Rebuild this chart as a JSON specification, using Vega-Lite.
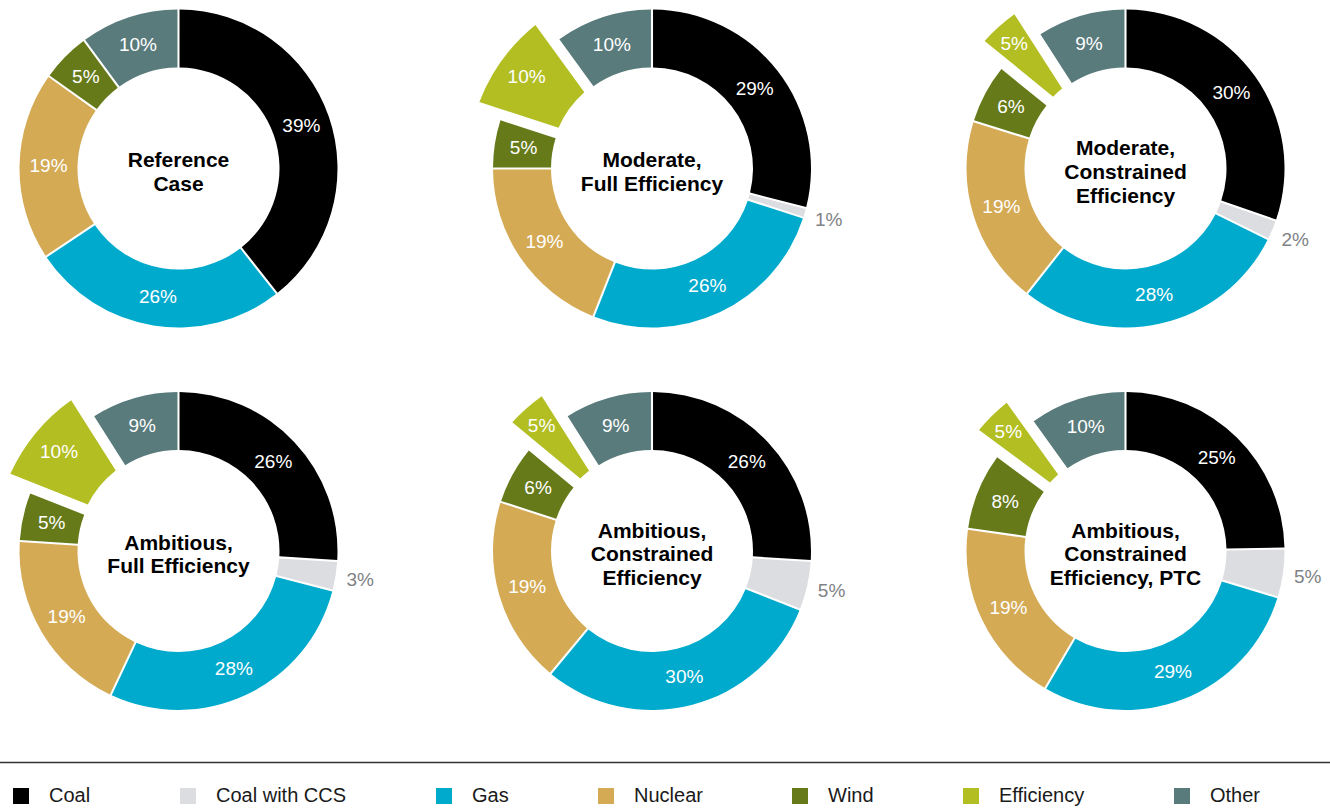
{
  "$schema": "https://vega.github.io/schema/vega-lite/v6.json",
  "width": 1330,
  "height": 808,
  "autosize": {"type": "none"},
  "padding": 0,
  "background": "white",
  "config": {
    "view": {"stroke": null},
    "font": "Liberation Sans",
    "legend": {
      "orient": "none",
      "legendX": 11,
      "legendY": 786,
      "direction": "horizontal",
      "title": null,
      "symbolType": "square",
      "symbolSize": 256,
      "symbolStrokeWidth": 0,
      "symbolOpacity": 1,
      "labelFont": "Liberation Sans",
      "labelFontSize": 20,
      "labelColor": "#1a1a1a",
      "labelOffset": 18,
      "columnPadding": 87,
      "padding": 0,
      "labelLimit": 300
    }
  },
  "data": {
    "values": [
      {"chart": "Reference\nCase", "source": "Coal", "v": 39},
      {"chart": "Reference\nCase", "source": "Gas", "v": 26},
      {"chart": "Reference\nCase", "source": "Nuclear", "v": 19},
      {"chart": "Reference\nCase", "source": "Wind", "v": 5},
      {"chart": "Reference\nCase", "source": "Other", "v": 10},
      {"chart": "Moderate,\nFull Efficiency", "source": "Coal", "v": 29},
      {"chart": "Moderate,\nFull Efficiency", "source": "Coal with CCS", "v": 1},
      {"chart": "Moderate,\nFull Efficiency", "source": "Gas", "v": 26},
      {"chart": "Moderate,\nFull Efficiency", "source": "Nuclear", "v": 19},
      {"chart": "Moderate,\nFull Efficiency", "source": "Wind", "v": 5},
      {"chart": "Moderate,\nFull Efficiency", "source": "Efficiency", "v": 10},
      {"chart": "Moderate,\nFull Efficiency", "source": "Other", "v": 10},
      {"chart": "Moderate,\nConstrained\nEfficiency", "source": "Coal", "v": 30},
      {"chart": "Moderate,\nConstrained\nEfficiency", "source": "Coal with CCS", "v": 2},
      {"chart": "Moderate,\nConstrained\nEfficiency", "source": "Gas", "v": 28},
      {"chart": "Moderate,\nConstrained\nEfficiency", "source": "Nuclear", "v": 19},
      {"chart": "Moderate,\nConstrained\nEfficiency", "source": "Wind", "v": 6},
      {"chart": "Moderate,\nConstrained\nEfficiency", "source": "Efficiency", "v": 5},
      {"chart": "Moderate,\nConstrained\nEfficiency", "source": "Other", "v": 9},
      {"chart": "Ambitious,\nFull Efficiency", "source": "Coal", "v": 26},
      {"chart": "Ambitious,\nFull Efficiency", "source": "Coal with CCS", "v": 3},
      {"chart": "Ambitious,\nFull Efficiency", "source": "Gas", "v": 28},
      {"chart": "Ambitious,\nFull Efficiency", "source": "Nuclear", "v": 19},
      {"chart": "Ambitious,\nFull Efficiency", "source": "Wind", "v": 5},
      {"chart": "Ambitious,\nFull Efficiency", "source": "Efficiency", "v": 10},
      {"chart": "Ambitious,\nFull Efficiency", "source": "Other", "v": 9},
      {"chart": "Ambitious,\nConstrained\nEfficiency", "source": "Coal", "v": 26},
      {"chart": "Ambitious,\nConstrained\nEfficiency", "source": "Coal with CCS", "v": 5},
      {"chart": "Ambitious,\nConstrained\nEfficiency", "source": "Gas", "v": 30},
      {"chart": "Ambitious,\nConstrained\nEfficiency", "source": "Nuclear", "v": 19},
      {"chart": "Ambitious,\nConstrained\nEfficiency", "source": "Wind", "v": 6},
      {"chart": "Ambitious,\nConstrained\nEfficiency", "source": "Efficiency", "v": 5},
      {"chart": "Ambitious,\nConstrained\nEfficiency", "source": "Other", "v": 9},
      {"chart": "Ambitious,\nConstrained\nEfficiency, PTC", "source": "Coal", "v": 25},
      {"chart": "Ambitious,\nConstrained\nEfficiency, PTC", "source": "Coal with CCS", "v": 5},
      {"chart": "Ambitious,\nConstrained\nEfficiency, PTC", "source": "Gas", "v": 29},
      {"chart": "Ambitious,\nConstrained\nEfficiency, PTC", "source": "Nuclear", "v": 19},
      {"chart": "Ambitious,\nConstrained\nEfficiency, PTC", "source": "Wind", "v": 8},
      {"chart": "Ambitious,\nConstrained\nEfficiency, PTC", "source": "Efficiency", "v": 5},
      {"chart": "Ambitious,\nConstrained\nEfficiency, PTC", "source": "Other", "v": 10}
    ]
  },
  "transform": [
    {"calculate": "indexof(['Reference\\nCase', 'Moderate,\\nFull Efficiency', 'Moderate,\\nConstrained\\nEfficiency', 'Ambitious,\\nFull Efficiency', 'Ambitious,\\nConstrained\\nEfficiency', 'Ambitious,\\nConstrained\\nEfficiency, PTC'], datum.chart)", "as": "i"},
    {"calculate": "datum.i % 3", "as": "col"},
    {"calculate": "floor(datum.i / 3)", "as": "row"},
    {"calculate": "length(split(datum.chart, '\\n'))", "as": "nl"},
    {"calculate": "indexof(['Coal', 'Coal with CCS', 'Gas', 'Nuclear', 'Wind', 'Efficiency', 'Other'], datum.source)", "as": "k"},
    {"stack": "v", "groupby": ["chart"], "sort": [{"field": "k", "order": "ascending"}], "offset": "normalize", "as": ["s0", "s1"]},
    {"calculate": "(datum.s0 + datum.s1) / 2", "as": "mid"},
    {"calculate": "datum.v + '%'", "as": "lab"}
  ],
  "resolve": {"scale": {"radius": "independent"}},
  "layer": [
    {
      "transform": [{"filter": "datum.source !== 'Efficiency'"}],
      "mark": {"type": "arc", "radius": 159, "radius2": 101, "padAngle": 0.011},
      "encoding": {
        "x": {"field": "col", "type": "quantitative", "scale": {"domain": [0, 2], "range": [178.5, 1125.5], "nice": false, "zero": false}, "axis": null},
        "y": {"field": "row", "type": "quantitative", "scale": {"domain": [0, 1], "range": [168.5, 551], "nice": false, "zero": false}, "axis": null},
        "theta": {"field": "s0", "type": "quantitative", "scale": {"domain": [0, 1], "range": [0, 6.283185307179586]}},
        "theta2": {"field": "s1"},
        "color": {
          "field": "source", "type": "nominal",
          "scale": {
            "domain": ["Coal", "Coal with CCS", "Gas", "Nuclear", "Wind", "Efficiency", "Other"],
            "range": ["#000000", "#dcdde0", "#00aacc", "#d4aa55", "#667a1a", "#b2be22", "#5a7b7c"]
          },
          "sort": null
        }
      }
    },
    {
      "transform": [{"filter": "datum.source === 'Efficiency'"}],
      "mark": {"type": "arc", "radius2": 102, "padAngle": 0.094},
      "encoding": {
        "x": {"field": "col", "type": "quantitative", "scale": {"domain": [0, 2], "range": [178.5, 1125.5], "nice": false, "zero": false}, "axis": null},
        "y": {"field": "row", "type": "quantitative", "scale": {"domain": [0, 1], "range": [168.5, 551], "nice": false, "zero": false}, "axis": null},
        "theta": {"field": "s0", "type": "quantitative", "scale": {"domain": [0, 1], "range": [0, 6.283185307179586]}},
        "theta2": {"field": "s1"},
        "radius": {"field": "v", "type": "quantitative", "scale": {"type": "linear", "domain": [5, 10], "range": [190, 185], "zero": false}},
        "color": {"field": "source", "type": "nominal"}
      }
    },
    {
      "transform": [{"filter": "datum.source !== 'Efficiency' && datum.source !== 'Coal with CCS'"}],
      "mark": {"type": "text", "radius": 130, "color": "white", "fontSize": 19, "align": "center", "baseline": "middle"},
      "encoding": {
        "x": {"field": "col", "type": "quantitative", "scale": {"domain": [0, 2], "range": [178.5, 1125.5], "nice": false, "zero": false}, "axis": null},
        "y": {"field": "row", "type": "quantitative", "scale": {"domain": [0, 1], "range": [168.5, 551], "nice": false, "zero": false}, "axis": null},
        "theta": {"field": "mid", "type": "quantitative", "stack": null, "scale": {"domain": [0, 1], "range": [0, 6.283185307179586]}},
        "text": {"field": "lab"}
      }
    },
    {
      "transform": [{"filter": "datum.source === 'Efficiency'"}],
      "mark": {"type": "text", "color": "white", "fontSize": 19, "align": "center", "baseline": "middle"},
      "encoding": {
        "x": {"field": "col", "type": "quantitative", "scale": {"domain": [0, 2], "range": [178.5, 1125.5], "nice": false, "zero": false}, "axis": null},
        "y": {"field": "row", "type": "quantitative", "scale": {"domain": [0, 1], "range": [168.5, 551], "nice": false, "zero": false}, "axis": null},
        "theta": {"field": "mid", "type": "quantitative", "stack": null, "scale": {"domain": [0, 1], "range": [0, 6.283185307179586]}},
        "radius": {"field": "v", "type": "quantitative", "scale": {"type": "linear", "domain": [5, 10], "range": [167, 155], "zero": false}},
        "text": {"field": "lab"}
      }
    },
    {
      "transform": [{"filter": "datum.source === 'Coal with CCS'"}],
      "mark": {"type": "text", "radius": 184, "color": "#808285", "fontSize": 19, "align": "center", "baseline": "middle"},
      "encoding": {
        "x": {"field": "col", "type": "quantitative", "scale": {"domain": [0, 2], "range": [178.5, 1125.5], "nice": false, "zero": false}, "axis": null},
        "y": {"field": "row", "type": "quantitative", "scale": {"domain": [0, 1], "range": [168.5, 551], "nice": false, "zero": false}, "axis": null},
        "theta": {"field": "mid", "type": "quantitative", "stack": null, "scale": {"domain": [0, 1], "range": [0, 6.283185307179586]}},
        "text": {"field": "lab"}
      }
    },
    {
      "transform": [{"filter": "datum.source === 'Coal' && datum.nl === 2"}],
      "mark": {"type": "text", "color": "black", "fontSize": 21, "fontWeight": "bold", "align": "center", "baseline": "middle", "lineBreak": "\n", "lineHeight": 23.5, "dy": -7.5},
      "encoding": {
        "x": {"field": "col", "type": "quantitative", "scale": {"domain": [0, 2], "range": [178.5, 1125.5], "nice": false, "zero": false}, "axis": null},
        "y": {"field": "row", "type": "quantitative", "scale": {"domain": [0, 1], "range": [168.5, 551], "nice": false, "zero": false}, "axis": null},
        "text": {"field": "chart"}
      }
    },
    {
      "transform": [{"filter": "datum.source === 'Coal' && datum.nl === 3"}],
      "mark": {"type": "text", "color": "black", "fontSize": 21, "fontWeight": "bold", "align": "center", "baseline": "middle", "lineBreak": "\n", "lineHeight": 23.8, "dy": -19.5},
      "encoding": {
        "x": {"field": "col", "type": "quantitative", "scale": {"domain": [0, 2], "range": [178.5, 1125.5], "nice": false, "zero": false}, "axis": null},
        "y": {"field": "row", "type": "quantitative", "scale": {"domain": [0, 1], "range": [168.5, 551], "nice": false, "zero": false}, "axis": null},
        "text": {"field": "chart"}
      }
    },
    {
      "data": {"values": [{}]},
      "mark": {"type": "rule", "color": "#333333", "strokeWidth": 1.5},
      "encoding": {
        "y": {"datum": 1.553, "type": "quantitative", "scale": {"domain": [0, 1], "range": [168.5, 551], "nice": false, "zero": false}, "axis": null}
      }
    }
  ]
}
